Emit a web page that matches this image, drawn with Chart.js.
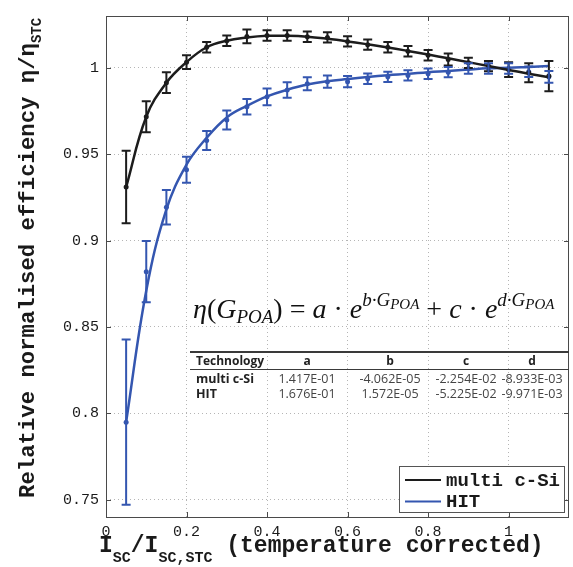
<!DOCTYPE html>
<html>
<head>
<meta charset="utf-8">
<script src="https://cdn.jsdelivr.net/npm/chart.js@4.4.0/dist/chart.umd.min.js"></script>
<style>
  html, body { margin: 0; padding: 0; background: #fff; }
  canvas { display: block; }
</style>
</head>
<body>
<canvas id="chart" width="573" height="567"></canvas>
<script>
// normalised short-circuit current (temperature corrected)
const iscRatio = [0.05, 0.1, 0.15, 0.2, 0.25, 0.3, 0.35, 0.4, 0.45, 0.5, 0.55,
                  0.6, 0.65, 0.7, 0.75, 0.8, 0.85, 0.9, 0.95, 1.0, 1.05, 1.1]

// multi c-Si measured mean + error, and fitted curve
const multiSi = [0.931, 0.9717, 0.9914, 1.0033, 1.0119, 1.0157, 1.0182, 1.0187, 1.0187, 1.018, 1.0176,
                 1.0153, 1.0134, 1.0119, 1.0096, 1.0073, 1.0048, 1.0029, 1.001, 0.999, 0.9971, 0.9952]
const multiSiErr = [0.021, 0.009, 0.006, 0.004, 0.003, 0.003, 0.004, 0.003, 0.003, 0.003, 0.003,
                    0.003, 0.003, 0.003, 0.003, 0.003, 0.0035, 0.003, 0.003, 0.0043, 0.0055, 0.0088]
const multiSiFit = [0.931, 0.9717, 0.9914, 1.0033, 1.0119, 1.0157, 1.0175, 1.0185, 1.0185, 1.018, 1.0168,
                    1.0153, 1.0136, 1.0118, 1.0098, 1.0077, 1.0055, 1.0033, 1.001, 0.9988, 0.9966, 0.9945]

// HIT measured mean + error, and fitted curve
const hit = [0.7949, 0.882, 0.9193, 0.941, 0.958, 0.9698, 0.9775, 0.9832, 0.9872, 0.9908, 0.992,
             0.992, 0.9937, 0.9948, 0.9956, 0.9966, 0.9975, 0.9996, 0.9996, 0.9996, 0.9977, 0.9948]
const hitErr = [0.0478, 0.0177, 0.01, 0.0075, 0.0055, 0.0055, 0.0045, 0.0048, 0.0045, 0.0038, 0.0035,
                0.0033, 0.003, 0.003, 0.003, 0.003, 0.003, 0.003, 0.003, 0.003, 0.003, 0.0034]
const hitFit = [0.795, 0.871, 0.918, 0.944, 0.9595, 0.9713, 0.978, 0.9835, 0.9873, 0.9903, 0.9922,
                0.9935, 0.9947, 0.9957, 0.9965, 0.9975, 0.9982, 0.999, 0.9997, 1.0, 1.0005, 1.001]

const xTicks = [0, 0.2, 0.4, 0.6, 0.8, 1]
const yTicks = [0.75, 0.8, 0.85, 0.9, 0.95, 1]

const tableHeader = ['Technology', 'a', 'b', 'c', 'd']
const tableRows = [
    ['multi c-Si', '1.417E-01', '-4.062E-05', '-2.254E-02', '-8.933E-03'],
    ['HIT', '1.676E-01', '1.572E-05', '-5.225E-02', '-9.971E-03']
]

const BLACK = '#1c1c1c'
const BLUE = '#3456b0'
const MONO = '"Liberation Mono", "Courier New", monospace'

const pts = (ys) => iscRatio.map((x, i) => ({ x: x, y: ys[i] }))

// draws a run of text pieces [{t, font, dy}] starting at x, baseline y
function drawRich(ctx, parts, x, y) {
    parts.forEach(p => {
        ctx.font = p.font
        ctx.fillText(p.t, x, y + (p.dy || 0))
        x += ctx.measureText(p.t).width
    })
    return x
}

const errorBars = {
    id: 'errorBars',
    afterDatasetsDraw(chart) {
        const ctx = chart.ctx
        const xs = chart.scales.x
        const ys = chart.scales.y
        chart.data.datasets.forEach(ds => {
            if (!ds.errors) return
            ctx.save()
            ctx.strokeStyle = ds.borderColor
            ctx.lineWidth = 2
            ds.data.forEach((p, i) => {
                const px = xs.getPixelForValue(p.x)
                const top = ys.getPixelForValue(p.y + ds.errors[i])
                const bot = ys.getPixelForValue(p.y - ds.errors[i])
                ctx.beginPath()
                ctx.moveTo(px, top); ctx.lineTo(px, bot)
                ctx.moveTo(px - 4.5, top); ctx.lineTo(px + 4.5, top)
                ctx.moveTo(px - 4.5, bot); ctx.lineTo(px + 4.5, bot)
                ctx.stroke()
            })
            ctx.restore()
        })
    }
}

const decorations = {
    id: 'decorations',
    afterDraw(chart) {
        const ctx = chart.ctx
        const a = chart.chartArea
        const xs = chart.scales.x
        const ys = chart.scales.y
        ctx.save()

        // box + inward ticks
        ctx.strokeStyle = '#4a4a4a'
        ctx.lineWidth = 1
        ctx.strokeRect(a.left + 0.5, a.top + 0.5, a.right - a.left - 1, a.bottom - a.top)
        ctx.beginPath()
        xTicks.forEach(v => {
            const px = Math.round(xs.getPixelForValue(v)) + 0.5
            ctx.moveTo(px, a.bottom); ctx.lineTo(px, a.bottom - 5)
            ctx.moveTo(px, a.top); ctx.lineTo(px, a.top + 5)
        })
        yTicks.forEach(v => {
            const py = Math.round(ys.getPixelForValue(v)) + 0.5
            ctx.moveTo(a.left, py); ctx.lineTo(a.left + 5, py)
            ctx.moveTo(a.right, py); ctx.lineTo(a.right - 5, py)
        })
        ctx.stroke()

        ctx.fillStyle = '#1a1a1a'
        ctx.textAlign = 'left'
        ctx.textBaseline = 'alphabetic'

        // x title
        const tf = 'bold 23px ' + MONO
        const sf = 'bold 15px ' + MONO
        drawRich(ctx, [
            { t: 'I', font: tf }, { t: 'SC', font: sf, dy: 10 },
            { t: '/I', font: tf }, { t: 'SC,STC', font: sf, dy: 10 },
            { t: ' (temperature corrected)', font: tf }
        ], 99, 552)

        // y title
        ctx.save()
        ctx.translate(34, 498)
        ctx.rotate(-Math.PI / 2)
        drawRich(ctx, [
            { t: 'Relative normalised efficiency η/η', font: 'bold 22.3px ' + MONO },
            { t: 'STC', font: 'bold 14px ' + MONO, dy: 7 }
        ], 0, 0)
        ctx.restore()

        // fit equation
        const ef = 'italic 28px "Liberation Serif", serif'
        const eu = '28px "Liberation Serif", serif'
        const es = 'italic 19px "Liberation Serif", serif'
        const ess = 'italic 15px "Liberation Serif", serif'
        ctx.fillStyle = '#111'
        drawRich(ctx, [
            { t: 'η', font: ef }, { t: '(', font: eu }, { t: 'G', font: ef },
            { t: 'POA', font: es, dy: 5 }, { t: ')', font: eu }, { t: ' = ', font: eu },
            { t: 'a', font: ef }, { t: ' · ', font: eu }, { t: 'e', font: ef },
            { t: 'b·G', font: es, dy: -12 }, { t: 'POA', font: ess, dy: -9 },
            { t: ' + ', font: eu }, { t: 'c', font: ef }, { t: ' · ', font: eu },
            { t: 'e', font: ef }, { t: 'd·G', font: es, dy: -12 }, { t: 'POA', font: ess, dy: -9 }
        ], 193, 318)

        // coefficient table
        const cols = [196, 307, 390, 466, 532]
        ctx.strokeStyle = '#3a3a3a'
        ctx.lineWidth = 2
        ctx.beginPath(); ctx.moveTo(190, 352); ctx.lineTo(a.right, 352); ctx.stroke()
        ctx.lineWidth = 1
        ctx.beginPath(); ctx.moveTo(190, 369.5); ctx.lineTo(a.right, 369.5); ctx.stroke()
        ctx.fillStyle = '#222'
        tableHeader.forEach((h, i) => {
            ctx.font = 'bold 12px "Open Sans", sans-serif'
            ctx.textAlign = i === 0 ? 'left' : 'center'
            ctx.fillText(h, cols[i], 365)
        })
        tableRows.forEach((row, r) => {
            const by = 382.5 + r * 15.5
            row.forEach((cell, i) => {
                ctx.font = (i === 0 ? 'bold ' : '') + '12.5px "Open Sans", sans-serif'
                ctx.textAlign = i === 0 ? 'left' : 'center'
                ctx.fillStyle = i === 0 ? '#222' : '#444'
                ctx.fillText(cell, cols[i], by)
            })
        })

        // legend
        const lx = 399, ly = 466, lw = 165, lh = 46
        ctx.fillStyle = '#fff'
        ctx.fillRect(lx, ly, lw, lh)
        ctx.strokeStyle = '#555'
        ctx.lineWidth = 1
        ctx.strokeRect(lx + 0.5, ly + 0.5, lw, lh)
        const legendSets = chart.data.datasets.filter(d => d.inLegend)
        legendSets.forEach((ds, i) => {
            const y = 480 + i * 21.5
            ctx.strokeStyle = ds.borderColor
            ctx.lineWidth = 2
            ctx.beginPath(); ctx.moveTo(405, y); ctx.lineTo(441, y); ctx.stroke()
            ctx.fillStyle = '#1a1a1a'
            ctx.font = 'bold 19px ' + MONO
            ctx.textAlign = 'left'
            ctx.textBaseline = 'middle'
            ctx.fillText(ds.label, 446, y + 1)
        })
        ctx.restore()
    }
}

new Chart(document.getElementById('chart'), {
    type: 'line',
    data: {
        datasets: [
            { label: 'multi c-Si', inLegend: true, data: pts(multiSiFit), borderColor: BLACK,
              borderWidth: 2.5, pointRadius: 0, tension: 0.4, fill: false },
            { label: 'HIT', inLegend: true, data: pts(hitFit), borderColor: BLUE,
              borderWidth: 2.5, pointRadius: 0, tension: 0.4, fill: false },
            { label: 'multi c-Si data', data: pts(multiSi), errors: multiSiErr, borderColor: BLACK,
              backgroundColor: BLACK, showLine: false, pointRadius: 2.5, pointBorderWidth: 0 },
            { label: 'HIT data', data: pts(hit), errors: hitErr, borderColor: BLUE,
              backgroundColor: BLUE, showLine: false, pointRadius: 2.5, pointBorderWidth: 0 }
        ]
    },
    options: {
        responsive: false,
        animation: false,
        layout: { padding: { left: 0, right: 4, top: 14, bottom: 0 } },
        plugins: { legend: { display: false }, tooltip: { enabled: false } },
        scales: {
            x: {
                type: 'linear', min: 0, max: 1.15,
                afterBuildTicks: s => { s.ticks = xTicks.map(v => ({ value: v })) },
                afterFit: s => { s.height = 50 },
                grid: { color: '#b5b5b5', drawTicks: false },
                border: { display: false, dash: [1, 3] },
                ticks: { padding: 6, color: '#1a1a1a', font: { family: MONO, size: 15 },
                         maxRotation: 0, callback: v => String(v) }
            },
            y: {
                type: 'linear', min: 0.74, max: 1.03,
                afterBuildTicks: s => { s.ticks = yTicks.map(v => ({ value: v })) },
                afterFit: s => { s.width = 106 },
                grid: { color: '#b5b5b5', drawTicks: false },
                border: { display: false, dash: [1, 3] },
                ticks: { padding: 7, color: '#1a1a1a', font: { family: MONO, size: 15 },
                         callback: v => String(v) }
            }
        }
    },
    plugins: [errorBars, decorations]
})
</script>
</body>
</html>
